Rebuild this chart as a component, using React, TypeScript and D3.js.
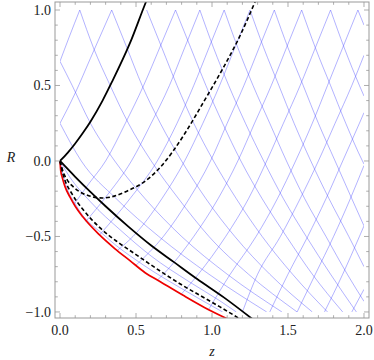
import React, { useEffect, useRef } from "react";
import * as d3 from "d3";

type Pt = [number, number];

// frame ticks
const zMajor = [0, 0.5, 1, 1.5, 2];
const zLabels = ["0.0", "0.5", "1.0", "1.5", "2.0"];
const rMajor = [-1, -0.5, 0, 0.5, 1];
const rLabels = ["\u22121.0", "\u22120.5", "0.0", "0.5", "1.0"];

// red boundary curve (z, R)
const redCurve: Pt[] = [
  [0, 0], [0.005, -0.065], [0.015, -0.11], [0.033, -0.17], [0.066, -0.24], [0.1, -0.3], [0.15, -0.37],
  [0.26, -0.49], [0.36, -0.58], [0.46, -0.66], [0.56, -0.74], [0.66, -0.8], [0.81, -0.89], [0.95, -0.97], [1.1, -1.045],
];

// solid black rays from the origin
const blackUpper: Pt[] = [
  [0, 0], [0.05, 0.054], [0.1, 0.116], [0.15, 0.185], [0.2, 0.26], [0.28, 0.4], [0.34, 0.52],
  [0.46, 0.78], [0.56, 1.04], [0.58, 1.09],
];
const blackLower: Pt[] = [
  [0, 0], [0.1, -0.105], [0.2, -0.205], [0.3, -0.3], [0.45, -0.435], [0.6, -0.56], [0.75, -0.67],
  [0.9, -0.78], [1.08, -0.905], [1.27, -1.05],
];

// dashed black curves
const dashedUpper: Pt[] = [
  [0, 0], [0.02, -0.07], [0.05, -0.13], [0.086, -0.17], [0.15, -0.215], [0.28, -0.245], [0.44, -0.2],
  [0.59, -0.11], [0.67, -0.03], [0.74, 0.06], [0.82, 0.18], [0.95, 0.4], [1.07, 0.61], [1.18, 0.82], [1.29, 1.07],
];
const dashedLower: Pt[] = [
  [0, 0], [0.01, -0.05], [0.03, -0.12], [0.08, -0.22], [0.15, -0.32], [0.26, -0.44], [0.37, -0.53],
  [0.5, -0.62], [0.66, -0.73], [0.8, -0.82], [0.92, -0.89], [1.05, -0.965], [1.19, -1.05],
];

// blue characteristic lines, rising family
const blueA: Pt[][] = [
  [[0, 0.66], [0.06, 0.82], [0.13, 1]],
  [[0, 0.25], [0.1, 0.45], [0.2, 0.68], [0.34, 1]],
  [[0.09, -0.29], [0.19, -0.15], [0.3, 0], [0.43, 0.25], [0.55, 0.5], [0.66, 0.76], [0.76, 1]],
  [[0.17, -0.4], [0.3, -0.24], [0.47, 0], [0.6, 0.25], [0.72, 0.5], [0.82, 0.75], [0.92, 1]],
  [[0.26, -0.49], [0.46, -0.25], [0.64, 0], [0.77, 0.25], [0.88, 0.5], [0.98, 0.75], [1.08, 1]],
  [[0.38, -0.59], [0.48, -0.5], [0.67, -0.25], [0.82, 0], [0.94, 0.25], [1.05, 0.5], [1.15, 0.75], [1.25, 1]],
  [[0.5, -0.69], [0.68, -0.5], [0.85, -0.25], [0.99, 0], [1.1, 0.25], [1.21, 0.5], [1.31, 0.75], [1.41, 1]],
  [[0.64, -0.79], [0.68, -0.75], [0.88, -0.5], [1.04, -0.25], [1.17, 0], [1.28, 0.25], [1.39, 0.5], [1.49, 0.75], [1.59, 1]],
  [[0.8, -0.88], [0.91, -0.75], [1.09, -0.5], [1.24, -0.25], [1.36, 0], [1.47, 0.25], [1.58, 0.5], [1.68, 0.75], [1.78, 1]],
  [[0.98, -0.98], [1.12, -0.75], [1.29, -0.5], [1.43, -0.25], [1.55, 0], [1.66, 0.25], [1.76, 0.5], [1.86, 0.75], [1.96, 1]],
  [[1.2, -1], [1.3, -0.75], [1.45, -0.5], [1.58, -0.25], [1.7, 0], [1.81, 0.25], [1.92, 0.5], [2, 0.7]],
  [[1.38, -1], [1.5, -0.75], [1.63, -0.5], [1.75, -0.25], [1.86, 0], [1.97, 0.25], [2, 0.32]],
  [[1.56, -1], [1.68, -0.75], [1.8, -0.5], [1.91, -0.25], [2, -0.03]],
  [[1.74, -1], [1.86, -0.75], [1.97, -0.5], [2, -0.43]],
  [[1.92, -1], [2, -0.85]],
];

// blue characteristic lines, falling family
const blueB: Pt[][] = [
  [[0, 0.25], [0.14, 0], [0.37, -0.25], [0.65, -0.5], [0.98, -0.75], [1.36, -1]],
  [[0, 0.66], [0.08, 0.5], [0.2, 0.25], [0.36, 0], [0.56, -0.25], [0.8, -0.5], [1.1, -0.75], [1.46, -1]],
  [[0.13, 1], [0.22, 0.75], [0.33, 0.5], [0.45, 0.25], [0.6, 0], [0.78, -0.25], [0.98, -0.5], [1.24, -0.75], [1.56, -1]],
  [[0.34, 1], [0.44, 0.75], [0.54, 0.5], [0.66, 0.25], [0.8, 0], [0.96, -0.25], [1.15, -0.5], [1.38, -0.75], [1.66, -1]],
  [[0.57, 1], [0.67, 0.75], [0.77, 0.5], [0.88, 0.25], [1.01, 0], [1.16, -0.25], [1.33, -0.5], [1.53, -0.75], [1.76, -1]],
  [[0.76, 1], [0.86, 0.75], [0.96, 0.5], [1.07, 0.25], [1.19, 0], [1.33, -0.25], [1.49, -0.5], [1.66, -0.75], [1.86, -1]],
  [[0.92, 1], [1.01, 0.75], [1.11, 0.5], [1.22, 0.25], [1.34, 0], [1.47, -0.25], [1.62, -0.5], [1.78, -0.75], [1.95, -1]],
  [[1.08, 1], [1.17, 0.75], [1.27, 0.5], [1.38, 0.25], [1.49, 0], [1.61, -0.25], [1.75, -0.5], [1.89, -0.75], [2, -0.93]],
  [[1.25, 1], [1.34, 0.75], [1.44, 0.5], [1.54, 0.25], [1.65, 0], [1.77, -0.25], [1.9, -0.5], [2, -0.7]],
  [[1.41, 1], [1.5, 0.75], [1.6, 0.5], [1.7, 0.25], [1.81, 0], [1.92, -0.25], [2, -0.43]],
  [[1.59, 1], [1.68, 0.75], [1.78, 0.5], [1.88, 0.25], [1.99, 0], [2, -0.02]],
  [[1.78, 1], [1.87, 0.75], [1.97, 0.5], [2, 0.43]],
  [[1.96, 1], [2, 0.9]],
  [[0, 0], [0.06, -0.1], [0.2, -0.27], [0.4, -0.46], [0.6, -0.63], [0.85, -0.8], [1.05, -0.925], [1.16, -1]],
  [[0, 0], [0.03, -0.13], [0.11, -0.3], [0.3, -0.5], [0.55, -0.69], [0.8, -0.845], [1.07, -1]],
];

function Chart() {
  const svgRef = useRef<SVGSVGElement>(null);

  useEffect(() => {
    document.body.style.margin = "0";
    const width = 374;
    const height = 360;
    const left = 55, right = 369, top = 2, bottom = 318;

    const x = d3.scaleLinear().domain([-0.033, 2.033]).range([left, right]);
    const y = d3.scaleLinear().domain([-1.04, 1.053]).range([bottom, top]);

    const svg = d3.select(svgRef.current).attr("width", width).attr("height", height);
    svg.selectAll("*").remove();

    const defs = svg.append("defs");
    defs.append("clipPath").attr("id", "inner")
      .append("rect")
      .attr("x", x(0)).attr("y", y(1))
      .attr("width", x(2) - x(0)).attr("height", y(-1) - y(1));
    defs.append("clipPath").attr("id", "frame")
      .append("rect")
      .attr("x", left).attr("y", top)
      .attr("width", right - left).attr("height", bottom - top);

    const line = d3.line<Pt>()
      .x(d => x(d[0]))
      .y(d => y(d[1]))
      .curve(d3.curveMonotoneX);

    const grid = svg.append("g").attr("clip-path", "url(#inner)");
    grid.selectAll("path.a")
      .data(blueA)
      .enter().append("path")
      .attr("class", "a")
      .attr("d", d => line(d))
      .attr("fill", "none")
      .attr("stroke", "rgb(80,80,255)")
      .attr("stroke-opacity", 0.55)
      .attr("stroke-width", 0.8);
    grid.selectAll("path.b")
      .data(blueB)
      .enter().append("path")
      .attr("class", "b")
      .attr("d", d => line(d))
      .attr("fill", "none")
      .attr("stroke", "rgb(80,80,255)")
      .attr("stroke-opacity", 0.55)
      .attr("stroke-width", 0.8);

    const curves = svg.append("g").attr("clip-path", "url(#frame)");
    curves.append("path").attr("d", line(redCurve))
      .attr("fill", "none").attr("stroke", "#ee0000").attr("stroke-width", 1.7);
    curves.append("path").attr("d", line(dashedLower))
      .attr("fill", "none").attr("stroke", "#000").attr("stroke-width", 1.6)
      .attr("stroke-dasharray", "4,2.5");
    curves.append("path").attr("d", line(dashedUpper))
      .attr("fill", "none").attr("stroke", "#000").attr("stroke-width", 1.6)
      .attr("stroke-dasharray", "4,2.5");
    curves.append("path").attr("d", line(blackUpper))
      .attr("fill", "none").attr("stroke", "#000").attr("stroke-width", 1.8);
    curves.append("path").attr("d", line(blackLower))
      .attr("fill", "none").attr("stroke", "#000").attr("stroke-width", 1.8);

    // frame
    const frameColor = "#999";
    svg.append("rect")
      .attr("x", left).attr("y", top)
      .attr("width", right - left).attr("height", bottom - top)
      .attr("fill", "none").attr("stroke", frameColor).attr("stroke-width", 1);

    const zMinor = d3.range(0, 2.001, 0.1).filter(v => !zMajor.some(m => Math.abs(m - v) < 1e-6));
    const rMinor = d3.range(-1, 1.001, 0.1).filter(v => !rMajor.some(m => Math.abs(m - v) < 1e-6));
    const ticks = svg.append("g").attr("stroke", frameColor).attr("stroke-width", 0.8);
    const addZ = (vals: number[], len: number) => {
      vals.forEach(v => {
        ticks.append("line").attr("x1", x(v)).attr("x2", x(v)).attr("y1", bottom).attr("y2", bottom - len);
        ticks.append("line").attr("x1", x(v)).attr("x2", x(v)).attr("y1", top).attr("y2", top + len);
      });
    };
    const addR = (vals: number[], len: number) => {
      vals.forEach(v => {
        ticks.append("line").attr("y1", y(v)).attr("y2", y(v)).attr("x1", left).attr("x2", left + len);
        ticks.append("line").attr("y1", y(v)).attr("y2", y(v)).attr("x1", right).attr("x2", right - len);
      });
    };
    addZ(zMajor, 5);
    addZ(zMinor, 2.8);
    addR(rMajor, 5);
    addR(rMinor, 2.8);

    const font = "Liberation Serif, serif";
    svg.append("g").selectAll("text")
      .data(zMajor)
      .enter().append("text")
      .attr("x", d => x(d))
      .attr("y", 335)
      .attr("text-anchor", "middle")
      .attr("font-family", font)
      .attr("font-size", 14)
      .attr("fill", "#222")
      .text((d, i) => zLabels[i]);
    svg.append("g").selectAll("text")
      .data(rMajor)
      .enter().append("text")
      .attr("x", 51)
      .attr("y", d => y(d) + 4.8)
      .attr("text-anchor", "end")
      .attr("font-family", font)
      .attr("font-size", 14)
      .attr("fill", "#222")
      .text((d, i) => rLabels[i]);

    svg.append("text")
      .attr("x", x(1))
      .attr("y", 356)
      .attr("text-anchor", "middle")
      .attr("font-family", font)
      .attr("font-style", "italic")
      .attr("font-size", 14)
      .attr("fill", "#222")
      .text("z");
    svg.append("text")
      .attr("x", 11)
      .attr("y", 162)
      .attr("text-anchor", "middle")
      .attr("font-family", font)
      .attr("font-style", "italic")
      .attr("font-size", 14)
      .attr("fill", "#222")
      .text("R");
  }, []);

  return <svg ref={svgRef} style={{ display: "block" }}></svg>;
}

export default function App() {
  return (
    <div style={{ width: 374, height: 360, background: "#fff" }}>
      <Chart />
    </div>
  );
}
